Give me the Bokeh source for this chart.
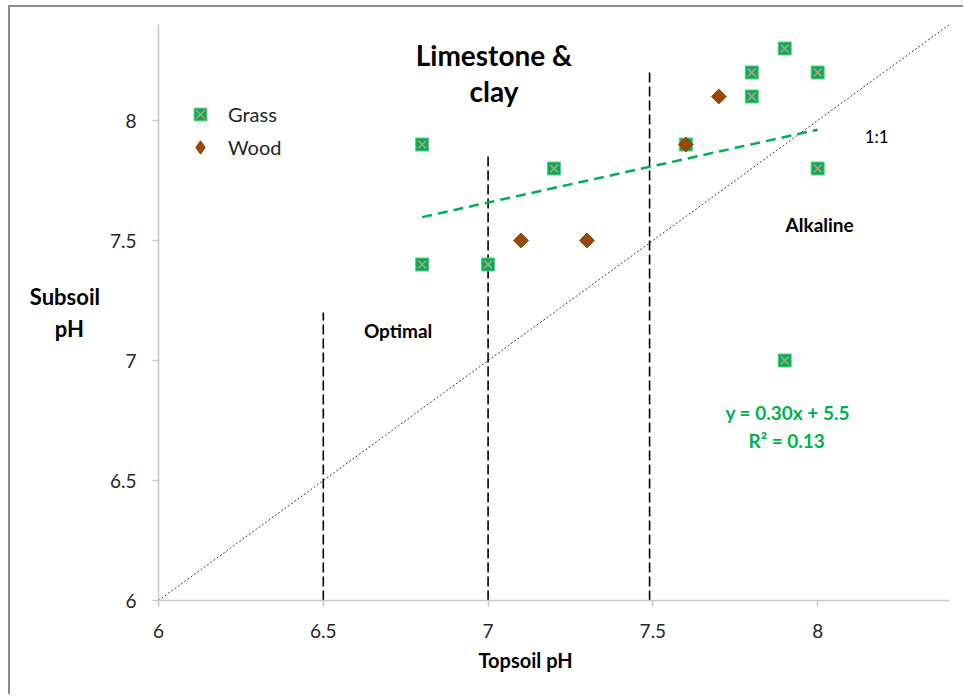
from bokeh.plotting import figure
from bokeh.models import Range1d, FixedTicker, Label, Legend, LegendItem, Title
from bokeh.embed import file_html
from bokeh.resources import INLINE

# ---- data ----
grass_top = [6.8, 6.8, 7.0, 7.2, 7.6, 7.8, 7.8, 7.9, 8.0, 8.0, 7.9]
grass_sub = [7.9, 7.4, 7.4, 7.8, 7.9, 8.2, 8.1, 8.3, 8.2, 7.8, 7.0]
wood_top = [7.1, 7.3, 7.6, 7.7]
wood_sub = [7.5, 7.5, 7.9, 8.1]
band_x = [6.5, 7.0, 7.49]
band_top = [7.2, 7.85, 8.2]
one_to_one = [6.0, 8.4]
ticks = [6, 6.5, 7, 7.5, 8]
tick_labels = ["6", "6.5", "7", "7.5", "8"]
equation = "y = 0.30x + 5.5"
r2_text = "R² = 0.13"
NAN = float("nan")

# regression of grass (least squares)
n = len(grass_top)
mx = sum(grass_top) / n
my = sum(grass_sub) / n
sxx = sum((a - mx) ** 2 for a in grass_top)
sxy = sum((a - mx) * (b - my) for a, b in zip(grass_top, grass_sub))
slope = sxy / sxx
icpt = my - slope * mx
trend_x = [min(grass_top), max(grass_top)]
trend_y = [slope * v + icpt for v in trend_x]

GREEN = "#00B050"
BROWN = "#984807"
FONT = "Lato"

p = figure(width=955, height=689, output_backend="svg", toolbar_location=None,
           x_range=Range1d(6, 8.4), y_range=Range1d(6, 8.4),
           min_border_left=148, min_border_right=16, min_border_top=17, min_border_bottom=96)
p.xgrid.visible = False
p.ygrid.visible = False
p.outline_line_color = None
p.styles = {"margin-left": "8px", "margin-top": "5px",
            "border-left": "2px solid #8c8c8c", "border-top": "2px solid #8c8c8c"}

for ax in (p.xaxis[0], p.yaxis[0]):
    ax.ticker = FixedTicker(ticks=ticks)
    ax.major_label_overrides = {t: l for t, l in zip(ticks, tick_labels)}
    ax.axis_line_color = "#C8C8C8"
    ax.axis_line_width = 1.5
    ax.major_tick_line_color = "#C8C8C8"
    ax.major_tick_line_width = 1.5
    ax.major_tick_out = 6
    ax.major_tick_in = 0
    ax.minor_tick_line_color = None
    ax.major_label_text_font = FONT
    ax.major_label_text_font_size = "19px"
    ax.major_label_text_color = "#262626"
p.xaxis.major_label_standoff = 17
p.yaxis.major_label_standoff = 16

p.yaxis.axis_label = "Subsoil\npH\u00a0\u00a0\u00a0"
p.yaxis.axis_label_orientation = "horizontal"
p.yaxis.axis_label_text_font = FONT
p.yaxis.axis_label_text_font_size = "22px"
p.yaxis.axis_label_text_font_style = "bold"
p.yaxis.axis_label_text_color = "#000000"
p.yaxis.axis_label_standoff = 7

p.add_layout(Title(text="Topsoil pH", align="left", offset=320, standoff=10,
                   text_font=FONT, text_font_size="20px", text_font_style="bold",
                   text_color="#000000"), "below")

# 1:1 line
p.line(one_to_one, one_to_one, line_color="#404040", line_width=1, line_dash="2 2")
# band lines
for bx, bt in zip(band_x, band_top):
    p.line([bx, bx], [6, bt], line_color="black", line_width=1.6, line_dash="10 4")
# trend
p.line(trend_x, trend_y, line_color=GREEN, line_width=2.5, line_dash="10 6")

g_sq = p.scatter(grass_top, grass_sub, marker="square", size=13, fill_color=GREEN,
                 line_color="#5FCB8A", line_width=1)
g_x = p.scatter(grass_top, grass_sub, marker="x", size=11, line_color="#C8958A", line_width=1.5)
w_d = p.scatter(wood_top, wood_sub, marker="square", angle=0.785398, size=10.5,
                fill_color=BROWN, line_color=BROWN, line_width=1)

# legend-only renderers (a single NaN point, never drawn in the plot)
lg_sq = p.scatter([NAN], [NAN], marker="square", fill_color=GREEN, line_color="#5FCB8A", line_width=1)
lg_x = p.scatter([NAN], [NAN], marker="x", line_color="#C8958A", line_width=1.5)
lg_d = p.scatter([NAN], [NAN], marker="diamond", fill_color=BROWN, line_color=BROWN, line_width=1.5)

legend = Legend(items=[LegendItem(label="Grass", renderers=[lg_sq, lg_x]),
                       LegendItem(label="Wood", renderers=[lg_d])],
                location=(26, 437), padding=0, margin=0, spacing=1,
                glyph_width=32, glyph_height=32, label_standoff=12,
                border_line_color=None, background_fill_alpha=0,
                label_text_font=FONT, label_text_font_size="20px", label_text_color="#262626")
p.add_layout(legend)


def lab(x, y, text, size, bold=True, color="#000000", align="center"):
    p.add_layout(Label(x=x, y=y, text=text, text_font=FONT, text_font_size=size,
                       text_font_style="bold" if bold else "normal", text_color=color,
                       text_align=align, text_baseline="middle"))


lab(7.018, 8.271, "Limestone &", "28px")
lab(7.018, 8.125, "clay", "28px")
lab(6.727, 7.125, "Optimal", "19px")
lab(8.006, 7.567, "Alkaline", "19px")
lab(8.179, 7.933, "1:1", "17px", bold=False)
lab(7.909, 6.783, equation, "19px", color=GREEN)
lab(7.906, 6.667, r2_text, "19px", color=GREEN)

open("out.html", "w").write(file_html(p, INLINE))
